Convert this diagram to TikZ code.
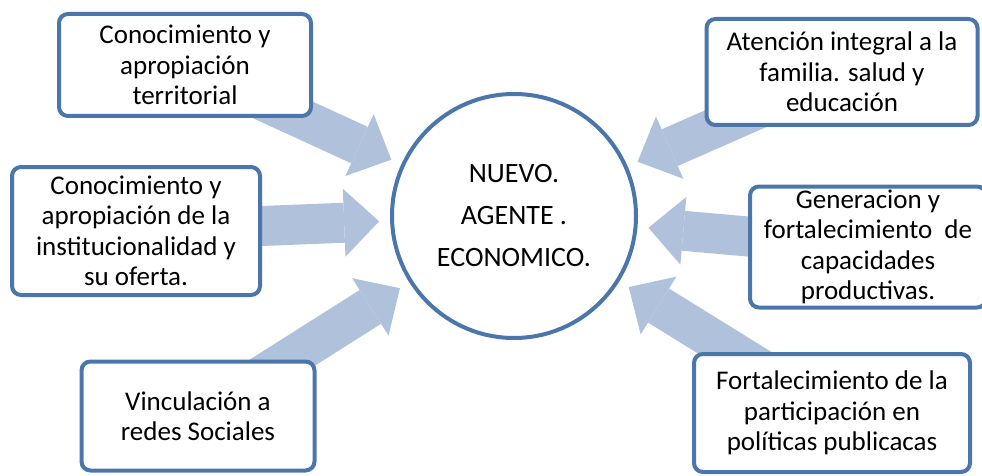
\documentclass[tikz,border=0pt]{standalone}
\usepackage{fontspec}
\setmainfont{Carlito}
\usepackage{tikz}
\usetikzlibrary{arrows.meta, backgrounds}
\definecolor{mBorde}{HTML}{4A76AC}
\definecolor{mFlecha}{HTML}{B0C1DC}

\begin{document}
\begin{tikzpicture}[x=1pt, y=-1pt,
    caja/.style={draw=mBorde, line width=4pt, rounded corners=9pt, fill=white,
      align=center, inner sep=0pt, font=\fontsize{27}{30.5}\selectfont},
    centro/.style={draw=mBorde, line width=4pt, circle, fill=white, minimum size=244pt,
      inner sep=0pt, align=center, font=\fontsize{28}{42}\selectfont},
    flecha/.style={draw=mFlecha, line width=40pt, shorten >=11pt,
      -{Triangle[length=35pt, width=68pt, line width=0pt]}}]
    \useasboundingbox (0,0) rectangle (982,476);
    \node[centro] (agente) at (514,216) {NUEVO.\\AGENTE .\\ECONOMICO.};
    % left side
    \node[caja, minimum width=252pt, minimum height=102pt] (cterr) at (185,65)
      {Conocimiento y\\apropiación\\territorial};
    \node[caja, minimum width=248pt, minimum height=128pt] (cinst) at (136,231)
      {Conocimiento y\\apropiación de la\\institucionalidad y\\su oferta.};
    \node[caja, minimum width=233pt, minimum height=109pt] (vred) at (198,416)
      {Vinculación a\\redes Sociales};
    % right side
    \node[caja, minimum width=271pt, minimum height=106pt] (afam) at (842,72)
      {Atención integral a la\\familia. salud y\\educación};
    \node[caja, minimum width=236pt, minimum height=121pt] (gcap) at (868,247)
      {Generacion y\\fortalecimiento\ \ de\\capacidades\\productivas.};
    \node[caja, minimum width=276pt, minimum height=118pt] (fpar) at (832,413)
      {Fortalecimiento de la\\participación en\\políticas publicacas};
    \begin{scope}[on background layer]
      \foreach \c in {cterr,cinst,vred,afam,gcap,fpar}
        \draw[flecha] (\c.center) -- (agente);
    \end{scope}
  \end{tikzpicture}
\end{document}
